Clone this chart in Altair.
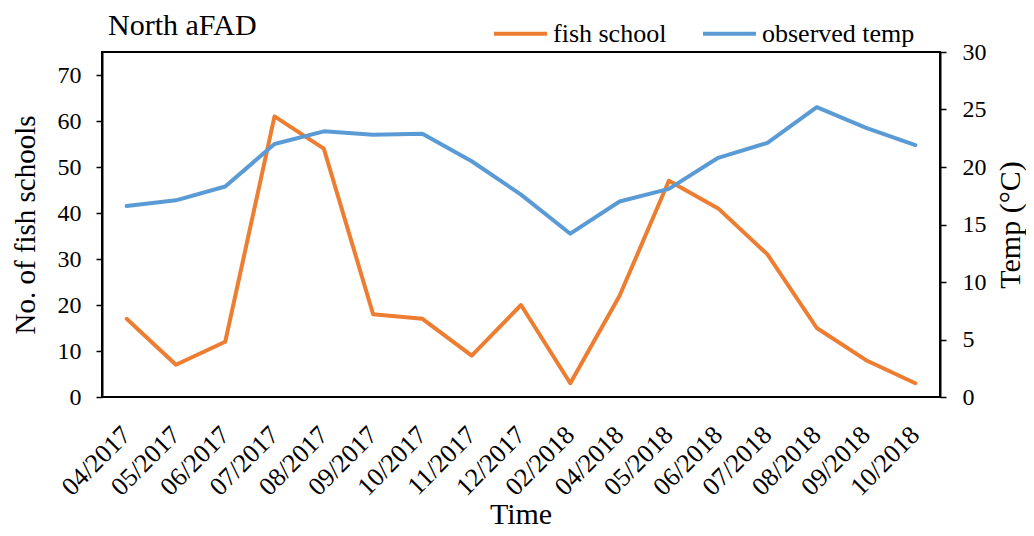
import altair as alt
import pandas as pd

months = ["04/2017", "05/2017", "06/2017", "07/2017", "08/2017", "09/2017",
          "10/2017", "11/2017", "12/2017", "02/2018", "04/2018", "05/2018",
          "06/2018", "07/2018", "08/2018", "09/2018", "10/2018"]
fish_school = [17, 7, 12, 61, 54, 18, 17, 9, 20, 3, 22, 47, 41, 31, 15, 8, 3]
observed_temp = [16.6, 17.1, 18.3, 22.0, 23.1, 22.8, 22.9, 20.5, 17.6, 14.2,
                 17.0, 18.1, 20.8, 22.1, 25.2, 23.4, 21.9]
series_names = ["fish school", "observed temp"]
series_colors = ["#ED7D31", "#5B9BD5"]
left_ticks = [0, 10, 20, 30, 40, 50, 60, 70]
right_ticks = [0, 5, 10, 15, 20, 25, 30]

FONT = "Liberation Serif"

df = pd.DataFrame({
    "month": months,
    "pos": [i + 0.5 for i in range(len(months))],
    "fish": fish_school,
    "temp": observed_temp,
})

color = alt.Color(
    "series:N",
    scale=alt.Scale(domain=series_names, range=series_colors),
    legend=alt.Legend(
        title=None, orient="none", legendX=390, legendY=-47,
        direction="horizontal", symbolType="stroke", symbolSize=2809,
        symbolStrokeWidth=4, labelFont=FONT, labelFontSize=26,
        labelColor="black", columnPadding=28, labelOffset=4, padding=0,
    ),
)

x_scale = alt.Scale(domain=[0, len(months)], nice=False, zero=False)
x_main = alt.X(
    "pos:Q",
    scale=x_scale,
    axis=alt.Axis(
        values=list(range(len(months) + 1)), labels=False, tickSize=6,
        title=None, grid=False,
        domainColor="black", domainWidth=2, tickColor="black", tickWidth=1.5,
    ),
)
x_plain = alt.X("pos:Q", scale=x_scale, axis=None)

base = alt.Chart(df)

fish_line = base.transform_calculate(series="'fish school'").mark_line(
    strokeWidth=4, strokeJoin="round", strokeCap="round"
).encode(
    x=x_main,
    y=alt.Y(
        "fish:Q",
        scale=alt.Scale(domain=[0, 75], nice=False),
        axis=alt.Axis(
            values=left_ticks, tickSize=6, labelFont=FONT, labelFontSize=24,
            labelColor="black", labelPadding=15, title="No. of fish schools",
            titleFont=FONT, titleFontSize=29, titleFontWeight="normal",
            titleColor="black", titlePadding=17, grid=False,
            domainColor="black", domainWidth=2, tickColor="black", tickWidth=1.5,
        ),
    ),
    color=color,
)

temp_line = base.transform_calculate(series="'observed temp'").mark_line(
    strokeWidth=4, strokeJoin="round", strokeCap="round"
).encode(
    x=x_plain,
    y=alt.Y(
        "temp:Q",
        scale=alt.Scale(domain=[0, 30], nice=False),
        axis=alt.Axis(
            orient="right", values=right_ticks, tickSize=6, labelFont=FONT,
            labelFontSize=24, labelColor="black", labelPadding=16,
            title="Temp (°C)", titleFont=FONT, titleFontSize=30,
            titleFontWeight="normal", titleColor="black", titlePadding=9,
            titleAngle=270, titleBaseline="top", grid=False,
            domainColor="black", domainWidth=2, tickColor="black", tickWidth=1.5,
        ),
    ),
    color=color,
)

x_labels = base.mark_text(
    font=FONT, fontSize=26, angle=315, align="right", baseline="middle", color="black"
).encode(
    x=x_plain,
    y=alt.value(379),
    text="month:N",
)

texts_df = pd.DataFrame({"t": ["North aFAD"]})
title_text = alt.Chart(texts_df).mark_text(
    font=FONT, fontSize=30, align="left", baseline="alphabetic", color="black"
).encode(
    x=alt.value(6),
    y=alt.value(-17),
    text="t:N",
)

xtitle_df = pd.DataFrame({"t": ["Time"]})
x_title = alt.Chart(xtitle_df).mark_text(
    font=FONT, fontSize=30, align="center", baseline="alphabetic", color="black"
).encode(
    x=alt.value(419),
    y=alt.value(472),
    text="t:N",
)

chart = alt.layer(fish_line, temp_line, x_labels, title_text, x_title).resolve_scale(
    y="independent"
).properties(
    width=838, height=345,
    autosize=alt.AutoSizeParams(type="none"),
    padding={"left": 94, "top": 44, "right": 86, "bottom": 136},
).configure_view(stroke="black", strokeWidth=2)

chart.save("out.html", embed_options={"renderer": "svg", "actions": False})
